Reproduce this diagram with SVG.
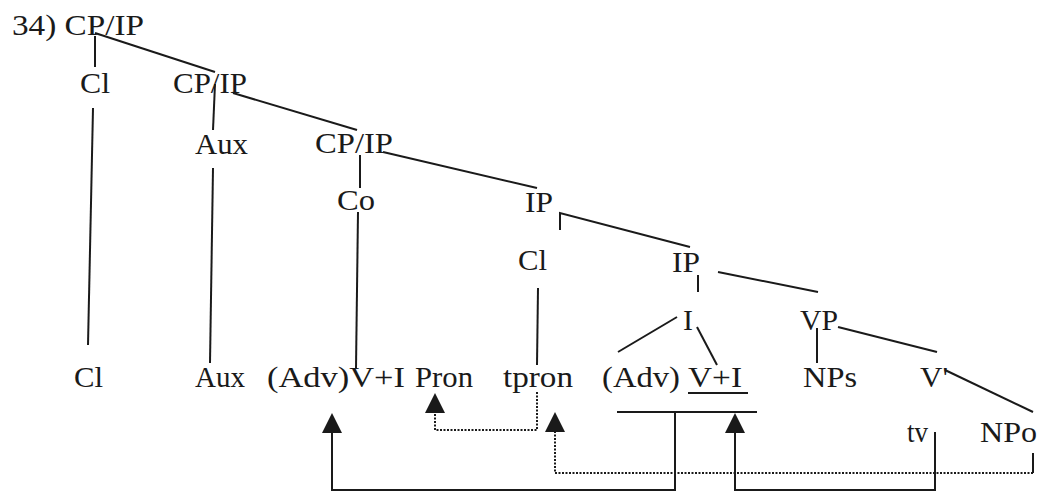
<svg xmlns="http://www.w3.org/2000/svg" xmlns:xlink="http://www.w3.org/1999/xlink" width="1040" height="492" viewBox="0 0 1040 492">
<style>
text{font-family:"Liberation Serif","Times New Roman",serif;font-size:29px;fill:#1a1a1a}
.ln{stroke:#1a1a1a;stroke-width:2;fill:none}
.dt{stroke:#1a1a1a;stroke-width:2;fill:none;stroke-dasharray:2 1.5}
.ah{fill:#1a1a1a}
</style>
<defs>
<path id="ah" d="M0,0 L10,20 L-10,20 Z"/>
</defs>
<rect width="1040" height="492" fill="#ffffff"/>
<g id="connectors">
<line class="ln" x1="95" y1="36" x2="95" y2="67"/>
<line class="ln" x1="95" y1="33" x2="215" y2="72"/>
<line class="ln" x1="93" y1="108" x2="88" y2="345"/>
<line class="ln" x1="215" y1="84" x2="213" y2="130"/>
<line class="ln" x1="233" y1="93" x2="357" y2="130"/>
<line class="ln" x1="213" y1="168" x2="210" y2="363"/>
<line class="ln" x1="360" y1="155" x2="360" y2="188"/>
<line class="ln" x1="383" y1="152" x2="537" y2="188"/>
<line class="ln" x1="358" y1="212" x2="356" y2="368"/>
<polyline class="ln" points="560,230 560,213 690,247"/>
<line class="ln" x1="538" y1="288" x2="537" y2="365"/>
<line class="ln" x1="698" y1="275" x2="698" y2="292"/>
<line class="ln" x1="718" y1="272" x2="818" y2="292"/>
<line class="ln" x1="677" y1="317" x2="618" y2="352"/>
<line class="ln" x1="697" y1="327" x2="717" y2="365"/>
<line class="ln" x1="817" y1="328" x2="817" y2="363"/>
<line class="ln" x1="838" y1="327" x2="937" y2="352"/>
<line class="ln" x1="945" y1="370" x2="1033" y2="412"/>
<line class="ln" x1="688" y1="393" x2="748" y2="393"/>
<line class="ln" x1="617" y1="412" x2="757" y2="412"/>
<polyline class="ln" points="675,412 675,490 332,490 332,425"/>
<polyline class="ln" points="935,432 935,490 735,490 735,425"/>
<polyline class="dt" points="537,392 537,430 435,430 435,405"/>
<line class="ln" x1="1033" y1="453" x2="1033" y2="473"/>
<polyline class="dt" points="1033,473 555,473 555,424"/>
<use class="ah" xlink:href="#ah" x="332" y="413"/>
<use class="ah" xlink:href="#ah" x="735" y="413"/>
<use class="ah" xlink:href="#ah" x="435" y="393"/>
<use class="ah" xlink:href="#ah" x="555" y="412"/>
</g>
<g id="n-root"><text x="12" y="35" textLength="132" lengthAdjust="spacingAndGlyphs">34) CP/IP</text></g>
<g id="n-cl1"><text x="80" y="93" textLength="30" lengthAdjust="spacingAndGlyphs">Cl</text></g>
<g id="n-cpip2"><text x="173" y="93" textLength="74" lengthAdjust="spacingAndGlyphs">CP/IP</text></g>
<g id="n-aux1"><text x="195" y="154" textLength="53" lengthAdjust="spacingAndGlyphs">Aux</text></g>
<g id="n-cpip3"><text x="315" y="153" textLength="78" lengthAdjust="spacingAndGlyphs">CP/IP</text></g>
<g id="n-co"><text x="337" y="210" textLength="38" lengthAdjust="spacingAndGlyphs">Co</text></g>
<g id="n-ip1"><text x="525" y="212" textLength="28" lengthAdjust="spacingAndGlyphs">IP</text></g>
<g id="n-cl2"><text x="518" y="270" textLength="29" lengthAdjust="spacingAndGlyphs">Cl</text></g>
<g id="n-ip2"><text x="672" y="272" textLength="28" lengthAdjust="spacingAndGlyphs">IP</text></g>
<g id="n-i"><text x="683" y="330" textLength="10" lengthAdjust="spacingAndGlyphs">I</text></g>
<g id="n-vp"><text x="800" y="330" textLength="38" lengthAdjust="spacingAndGlyphs">VP</text></g>
<g id="n-cl3"><text x="74" y="387" textLength="29" lengthAdjust="spacingAndGlyphs">Cl</text></g>
<g id="n-aux2"><text x="195" y="387" textLength="50" lengthAdjust="spacingAndGlyphs">Aux</text></g>
<g id="n-advvi"><text x="267" y="387" textLength="138" lengthAdjust="spacingAndGlyphs">(Adv)V+I</text></g>
<g id="n-pron"><text x="415" y="387" textLength="58" lengthAdjust="spacingAndGlyphs">Pron</text></g>
<g id="n-tpron"><text x="503" y="387" textLength="70" lengthAdjust="spacingAndGlyphs">tpron</text></g>
<g id="n-adv"><text x="602" y="387" textLength="78" lengthAdjust="spacingAndGlyphs">(Adv)</text></g>
<g id="n-vi"><text x="688" y="387" textLength="54" lengthAdjust="spacingAndGlyphs">V+I</text></g>
<g id="n-nps"><text x="803" y="387" textLength="54" lengthAdjust="spacingAndGlyphs">NPs</text></g>
<g id="n-vbar"><text x="920" y="387" textLength="28" lengthAdjust="spacingAndGlyphs">V'</text></g>
<g id="n-tv"><text x="907" y="442" textLength="21" lengthAdjust="spacingAndGlyphs">tv</text></g>
<g id="n-npo"><text x="980" y="442" textLength="57" lengthAdjust="spacingAndGlyphs">NPo</text></g>
</svg>
